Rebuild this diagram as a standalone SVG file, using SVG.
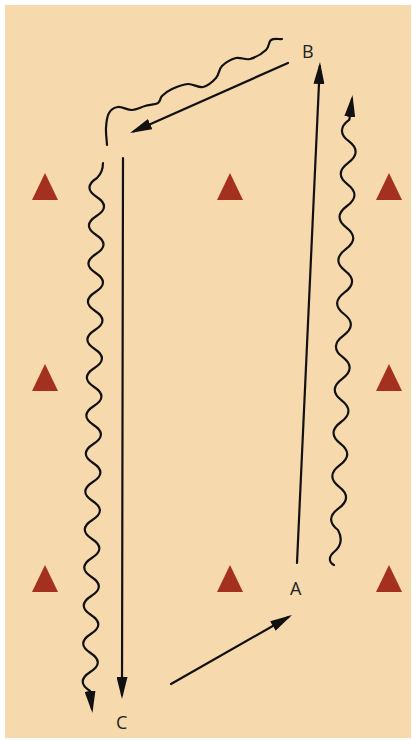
<svg xmlns="http://www.w3.org/2000/svg" width="412" height="740" viewBox="0 0 412 740">
<defs>
<style>
.ln{fill:none;stroke:#111;stroke-width:2.2;stroke-linecap:round;stroke-linejoin:round}
.ar{marker-end:url(#ah)}
.tri{fill:#a4301f}
.lbl{font-family:"Open Sans","Liberation Sans",sans-serif;font-size:18px;fill:#222}
</style>
<marker id="ah" markerUnits="userSpaceOnUse" viewBox="0 0 22 11" refX="18" refY="5.5" markerWidth="22" markerHeight="11" orient="auto">
<path d="M0 0 L22 5.5 L0 11 Z" fill="#111"/>
</marker>
<polygon id="cone" points="0,-14 13,13 -13,13"/>
</defs>
<rect x="0" y="0" width="412" height="740" fill="#ffffff"/>
<rect x="5" y="5" width="406" height="733" fill="#f6d9ad"/>
<g id="cones" class="tri">
<use href="#cone" x="45" y="187"/>
<use href="#cone" x="230" y="187"/>
<use href="#cone" x="389" y="187"/>
<use href="#cone" x="45" y="378"/>
<use href="#cone" x="389" y="378"/>
<use href="#cone" x="45" y="579"/>
<use href="#cone" x="230" y="579"/>
<use href="#cone" x="389" y="579"/>
</g>
<g id="nodeB"><text class="lbl" x="302" y="58">B</text></g>
<g id="nodeA"><text class="lbl" x="290" y="595">A</text></g>
<g id="nodeC"><text class="lbl" x="116" y="729">C</text></g>
<g id="connectors">
<path class="ln ar" d="M297 563 L319.8 66"/>
<path class="ln ar" d="M288 63 L133.7 131.4"/>
<path class="ln ar" d="M123 158 L122 695"/>
<path class="ln ar" d="M171 684 L288.5 617"/>
<path class="ln" d="M282 39 C278.3 39.3 273.7 38.2 271 40 C268.3 41.8 269.5 46.8 266 50 C262.5 53.2 255 57.7 250 59 C245 60.3 240.7 56.8 236 58 C231.3 59.2 225.3 62.7 222 66 C218.7 69.3 219.2 74.5 216 78 C212.8 81.5 207.7 86 203 87 C198.3 88 193.2 83.7 188 84 C182.8 84.3 176.3 87 172 89 C167.7 91 164.3 93.7 162 96 C159.7 98.3 160.8 101.3 158 103 C155.2 104.7 149.3 104.8 145 106 C140.7 107.2 136.5 109.8 132 110 C127.5 110.2 121.8 106.5 118 107 C114.2 107.5 111 109.5 109 113 C107 116.5 106.3 122.7 106 128 C105.7 133.3 106.7 139.3 107 145"/>
<path class="ln ar" d="M103 163 Q103 172 97 178 q-15 9.5 -0.26 19 t-0.26 19 t-0.26 19 t-0.26 19 t-0.26 19 t-0.26 19 t-0.26 19 t-0.26 19 t-0.26 19 t-0.26 19 t-0.26 19 t-0.26 19 t-0.26 19 t-0.26 19 t-0.26 19 t-0.26 19 t-0.26 19 t-0.26 19 t-0.26 19 t-0.26 19 t-0.26 19 t-0.26 19 t-0.26 19 t-0.26 19 t-0.26 19 t-0.26 19 t-0.26 19 L92 709"/>
<path class="ln ar" d="M334 565 C328 562 329 556 334 552 Q345 543 338 530 q-14 -10.8 0.6 -21.6 t0.6 -21.6 t0.6 -21.6 t0.6 -21.6 t0.6 -21.6 t0.6 -21.6 t0.6 -21.6 t0.6 -21.6 t0.6 -21.6 t0.6 -21.6 t0.6 -21.6 t0.6 -21.6 t0.6 -21.6 t0.6 -21.6 t0.6 -21.6 t0.6 -21.6 t0.6 -21.6 t0.6 -21.6 t0.6 -21.6 L352 99"/>
</g>
</svg>
